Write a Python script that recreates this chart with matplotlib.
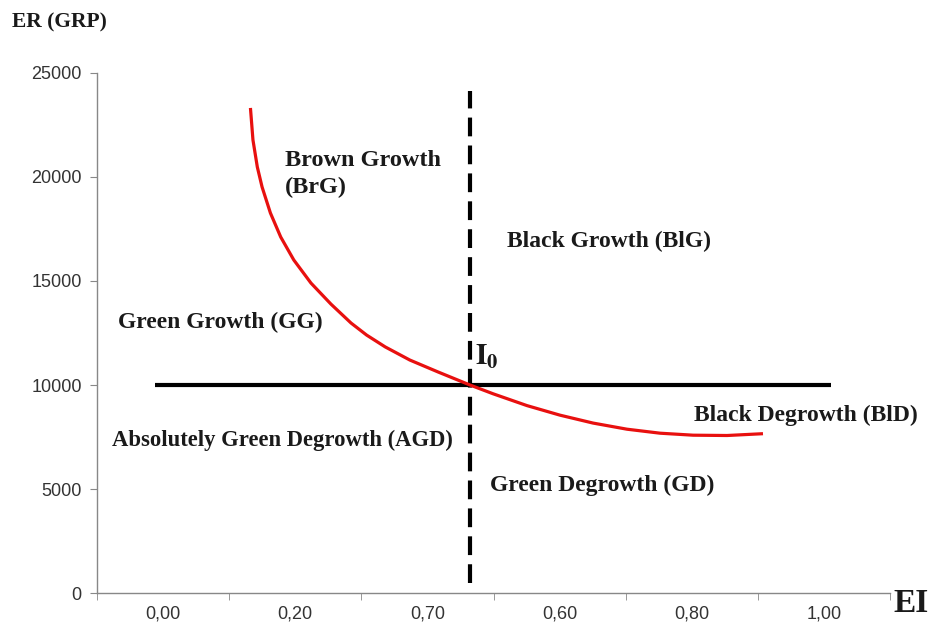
import matplotlib
matplotlib.use("Agg")
import matplotlib.pyplot as plt
import numpy as np

# category axis labels (as printed on the original)
ei_labels = ["0,00", "0,20", "0,70", "0,60", "0,80", "1,00"]

# red curve (category-axis units, ER values)
curve_x = [1.161, 1.180, 1.213, 1.249, 1.312, 1.390, 1.489, 1.619, 1.770, 1.922,
           2.040, 2.181, 2.367, 2.581, 2.822, 2.996, 3.253, 3.503, 3.753, 4.010,
           4.260, 4.510, 4.767, 5.039]
curve_y = [23320, 21780, 20480, 19520, 18270, 17115, 16010, 14900, 13890, 12980,
           12400, 11830, 11200, 10625, 10000, 9580, 9010, 8550, 8170, 7875,
           7683, 7587, 7572, 7659]

# reference point I0
ref_ei = 2.82
ref_er = 10000
hline_x = [0.44, 5.55]
vline_y = [480, 24150]

# region labels: text, x, y
regions = [
    ("Brown Growth\n(BrG)", 1.42, 20150),
    ("Black Growth (BlG)", 3.10, 16920),
    ("Green Growth (GG)", 0.16, 13030),
    ("Absolutely Green Degrowth (AGD)", 0.11, 7360),
    ("Black Degrowth (BlD)", 4.52, 8560),
    ("Green Degrowth (GD)", 2.97, 5190),
]
label_size = {"Brown Growth\n(BrG)": 17.5, "Absolutely Green Degrowth (AGD)": 16.3}

fig = plt.figure(figsize=(9.36, 6.28), dpi=100)
ax = fig.add_axes([97/936, 35/628, 793/936, 520/628])

ax.plot(curve_x, curve_y, color="#e8100f", lw=2.3, solid_capstyle="butt",
        solid_joinstyle="round", zorder=3)
ax.plot(hline_x, [ref_er, ref_er], color="black", lw=3.0, solid_capstyle="butt", zorder=2)
ax.plot([ref_ei, ref_ei], vline_y, color="black", lw=3.0, dashes=(4.5, 2.2), zorder=2)

ax.set_xlim(0, 6)
ax.set_ylim(0, 25000)
ax.set_yticks(np.arange(0, 25001, 5000))
ax.set_xticks(np.arange(len(ei_labels)) + 0.5)
ax.set_xticklabels(ei_labels)
ax.set_xticks(np.arange(len(ei_labels) + 1), minor=True)
ax.tick_params(axis="x", which="major", length=0, pad=9)
ax.tick_params(axis="x", which="minor", length=5, color="#888888", direction="out")
ax.tick_params(axis="y", length=5, color="#888888", pad=6)
for lab in ax.get_xticklabels() + ax.get_yticklabels():
    lab.set_family("Liberation Sans")
    lab.set_fontsize(13)
    lab.set_color("#333333")

for s in ["top", "right"]:
    ax.spines[s].set_visible(False)
for s in ["left", "bottom"]:
    ax.spines[s].set_color("#888888")
    ax.spines[s].set_linewidth(1.0)

serif = dict(family="Liberation Serif", fontweight="bold", color="#1a1a1a")
for txt, x, y in regions:
    ax.text(x, y, txt, ha="left", va="center", fontsize=label_size.get(txt, 17),
            linespacing=1.35, **serif)

ax.text(ref_ei + 0.04, ref_er + 1350, r"$\mathbf{I_0}$", ha="left", va="center",
        fontsize=21, color="#1a1a1a", math_fontfamily="stix")

fig.text(12/936, 1 - 22/628, "ER (GRP)", ha="left", va="center", fontsize=15.5, **serif)
fig.text(893/936, 1 - 603/628, "EI", ha="left", va="center", fontsize=24, **serif)

fig.savefig("out.png", dpi=100, facecolor="white")
